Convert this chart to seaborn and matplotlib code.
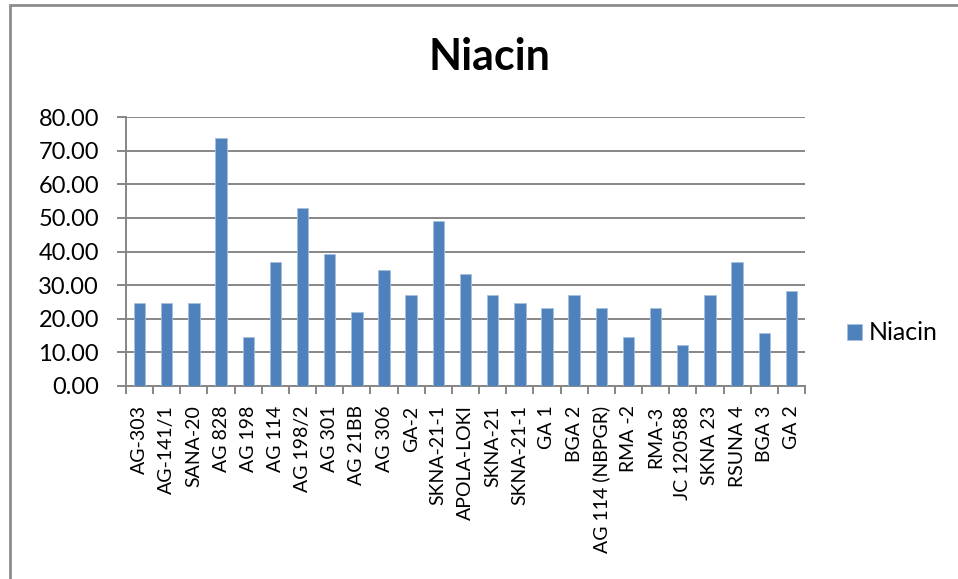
import matplotlib
matplotlib.use("Agg")
import matplotlib.pyplot as plt
from matplotlib.patches import Patch, Rectangle
from matplotlib.ticker import FixedLocator, FormatStrFormatter
import seaborn as sns
import pandas as pd
import numpy as np

# Niacin content per accession
categories = [
    "AG-303", "AG-141/1", "SANA-20", "AG 828", "AG 198", "AG 114", "AG 198/2",
    "AG 301", "AG 21BB", "AG 306", "GA-2", "SKNA-21-1", "APOLA-LOKI", "SKNA-21",
    "SKNA-21-1", "GA 1", "BGA 2", "AG 114 (NBPGR)", "RMA -2", "RMA-3",
    "JC 120588", "SKNA 23", "RSUNA 4", "BGA 3", "GA 2",
]
niacin = [
    24.6, 24.6, 24.6, 73.8, 14.7, 36.9, 52.8,
    39.4, 22.0, 34.4, 27.0, 49.2, 33.2, 27.0,
    24.6, 23.3, 27.0, 23.3, 14.7, 23.3,
    12.2, 27.0, 36.9, 15.9, 28.3,
]
series_name = "Niacin"
y_ticks = [0, 10, 20, 30, 40, 50, 60, 70, 80]

BAR = "#4F81BD"
GRID = "#868686"

sns.set_style("white")
plt.rcParams["font.family"] = ["Lato", "DejaVu Sans"]
plt.rcParams["text.color"] = "black"
plt.rcParams["xtick.labelcolor"] = "black"
plt.rcParams["ytick.labelcolor"] = "black"

df = pd.DataFrame({"pos": np.arange(len(categories)), "value": niacin})

fig = plt.figure(figsize=(9.58, 5.79), dpi=100)
ax = fig.add_axes([126 / 958, 1 - 386 / 579, (805 - 126) / 958, (386 - 117) / 579])

sns.barplot(data=df, x="pos", y="value", color=BAR, saturation=1,
            width=0.42, edgecolor="#A7C0DE", linewidth=0.6, ax=ax, zorder=3)

ax.set_xlim(-0.5, len(categories) - 0.5)
ax.set_ylim(0, 80)
ax.set_xlabel("")
ax.set_ylabel("")

# y axis
ax.yaxis.set_major_locator(FixedLocator(y_ticks))
ax.yaxis.set_major_formatter(FormatStrFormatter("%.2f"))
ax.grid(axis="y", color=GRID, linewidth=1.4, zorder=0)
ax.set_axisbelow(True)
ax.tick_params(axis="y", which="major", direction="out", length=6.5, width=1.4,
               color=GRID, labelsize=17, pad=13, left=True, labelcolor="black")

# x axis: labels at centres, tick marks between categories
ax.set_xticks(np.arange(len(categories)))
ax.set_xticklabels(categories, rotation=90)
ax.set_xticks(np.arange(len(categories) + 1) - 0.5, minor=True)
ax.tick_params(axis="x", which="major", length=0, labelsize=14, pad=14,
               labelcolor="black")
ax.tick_params(axis="x", which="minor", direction="out", length=6, width=1.4,
               color=GRID, bottom=True)

for side in ("top", "right"):
    ax.spines[side].set_visible(False)
for side in ("left", "bottom"):
    ax.spines[side].set_color(GRID)
    ax.spines[side].set_linewidth(1.4)

# title
fig.text(489 / 958, 1 - 57 / 579, series_name, ha="center", va="center",
         fontsize=31, fontweight="bold", color="black")

# legend
handle = Patch(facecolor=BAR, edgecolor="#A7C0DE", linewidth=0.6, label=series_name)
fig.legend(handles=[handle], loc="center left",
           bbox_to_anchor=(829 / 958, 1 - 333 / 579), frameon=False,
           fontsize=18, handlelength=0.6, handleheight=0.6, handletextpad=0.3,
           borderpad=0.2, labelcolor="black")

# chart frame
fig.patches.append(Rectangle((10 / 958, -0.05), 1.2, 1.05 - 5 / 579,
                             transform=fig.transFigure, fill=False,
                             edgecolor="#8C8C8C", linewidth=2, zorder=10))

fig.savefig("out.png", dpi=100)
